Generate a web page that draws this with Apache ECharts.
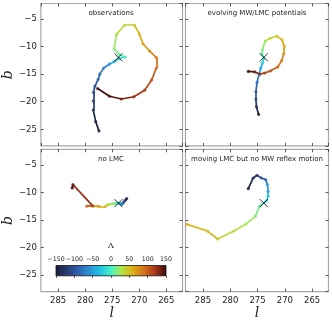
<!DOCTYPE html>
<html>
<head>
<meta charset="utf-8">
<script src="https://cdn.jsdelivr.net/npm/echarts@6/dist/echarts.min.js"></script>
<style>
  html, body { margin: 0; padding: 0; background: #fff; }
  #main { width: 332px; height: 332px; }
</style>
</head>
<body>
<div id="main"></div>
<script>
// axis ranges (l runs right-to-left)
let L_MIN = 262, L_MAX = 288.2
let B_MIN = -28, B_MAX = -2.2

// colormap stops for Lambda, -150 ... 150 every 30 deg
let LAM_MIN = -150, LAM_MAX = 150
let lamColors = ['#1a1a33', '#283a72', '#2f5ea8', '#2b8ed6', '#1fc2e2', '#46f2c8',
                 '#b4e442', '#deaa12', '#d4701a', '#a8361a', '#360a0a']
let cbarTicks = [-150, -100, -50, 0, 50, 100, 150]

// progenitor (the black cross)
let progL = [273.85]
let progB = [-11.95]

// observations
let obsLam = [-150, -140, -130, -120, -110, -100, -90, -80, -70, -55, -40, -20, -5, 10, 20,
              28, 36, 44, 55, 65, 75, 85, 95, 105, 115, 125, 135, 145, 150]
let obsL = [277.45, 278.05, 278.5, 278.5, 278.45, 278.2, 277.6, 277.3, 276.6, 275.55, 274.65, 273.75, 272.6, 273.75, 274.65,
            274.2, 272.7, 270.9, 270.0, 269.3, 268.1, 266.85, 266.85, 267.7, 269.0, 271.0, 273.3, 275.5, 277.7]
let obsB = [-25.3, -23.6, -21.5, -19.85, -18.3, -17.2, -15.95, -15.0, -13.9, -13.2, -12.75, -12.15, -11.9, -11.4, -10.4,
            -7.8, -6.1, -6.1, -7.7, -9.5, -10.8, -12.0, -13.9, -16.05, -17.9, -19.1, -19.5, -19.0, -17.6]

// evolving MW/LMC potentials
let evoLam = [-150, -130, -110, -95, -80, -65, -45, -30, -15, 5, 15, 25, 35, 45, 55, 65, 75, 85, 95, 105, 115, 125, 135, 150]
let evoL = [274.8, 275.2, 275.3, 275.3, 275.1, 274.7, 274.4, 274.1, 273.85, 274.2, 274.1, 273.6,
            272.7, 271.5, 270.5, 270.1, 270.2, 270.6, 271.3, 272.6, 273.7, 274.6, 275.5, 276.7]
let evoB = [-22.3, -20.9, -19.5, -18.2, -16.5, -15.0, -13.9, -13.0, -12.1, -11.4, -10.6, -9.0,
            -8.5, -8.1, -8.8, -10.0, -11.3, -12.6, -13.7, -14.4, -14.8, -15.0, -14.6, -14.5]

// no LMC
let nolLam = [-150, -130, -110, -90, -70, -50, -30, -10, 10, 20, 30, 40, 50, 65, 80, 95, 110, 140, 150]
let nolL = [272.33, 272.6, 272.9, 273.1, 273.3, 273.45, 273.7, 274.0, 274.5, 274.95, 275.5, 275.85,
            276.3, 277.45, 278.6, 279.7, 278.6, 282.26, 282.4]
let nolB = [-11.14, -11.45, -11.8, -12.05, -12.2, -12.0, -12.0, -11.95, -12.05, -12.1, -12.2, -12.25,
            -12.6, -12.55, -12.5, -12.5, -12.45, -8.6, -9.2]

// moving LMC but no MW reflex motion
let movLam = [-150, -135, -120, -100, -80, -60, -45, -30, -15, 10, 20, 28, 36, 44, 52, 60]
let movL = [276.7, 275.8, 275.1, 274.3, 273.5, 273.2, 273.05, 273.05, 273.4, 274.6, 275.4, 277.2, 279.3, 282.3, 284.2, 287.9]
let movB = [-9.33, -7.4, -6.9, -7.4, -7.7, -8.6, -9.8, -10.7, -11.6, -12.5, -14.35, -15.8, -17.0, -18.45, -17.0, -15.8]

let panels = [
    {title: 'observations', L: obsL, B: obsB, lam: obsLam},
    {title: 'evolving MW/LMC potentials', L: evoL, B: evoB, lam: evoLam},
    {title: 'no LMC', L: nolL, B: nolB, lam: nolLam},
    {title: 'moving LMC but no MW reflex motion', L: movL, B: movB, lam: movLam}
]

function lamColor (v) {
    return echarts.color.lerp((v - LAM_MIN) / (LAM_MAX - LAM_MIN), lamColors)
}

function fmtMinus (v) {
    return String(v).replace('-', '\u2212')
}

let chart = echarts.init(document.getElementById('main'))

let grids = [], xAxes = [], yAxes = [], series = [], graphics = []
let tickStyle = {inside: true, length: 3, lineStyle: {color: '#333', width: 0.8}}
let labelStyle = {fontFamily: 'DejaVu Sans', fontSize: 8.5, color: '#222'}

panels.forEach(function (p, i) {
    let row = i >> 1, col = i & 1
    let left = col ? 185.5 : 39.5
    let top = row ? 149.3 : 3.5
    grids.push({left: left, top: top, width: 143, height: 142.4,
        show: true, borderColor: '#a8a8a8', borderWidth: 1.2, backgroundColor: '#fff'})

    ;['bottom', 'top'].forEach(function (pos) {
        let lab = pos === 'bottom' && row === 1
        xAxes.push({
            gridIndex: i, type: 'value', position: pos, inverse: true,
            min: L_MIN, max: L_MAX, minInterval: 5, maxInterval: 5,
            axisLine: {show: false}, splitLine: {show: false}, axisTick: tickStyle,
            axisLabel: Object.assign({show: lab, margin: 5, showMinLabel: false, showMaxLabel: false,
                formatter: function (v) { return v % 5 === 0 ? fmtMinus(v) : '' }}, labelStyle),
            name: lab ? 'l' : '', nameLocation: 'middle', nameGap: 14,
            nameTextStyle: {fontFamily: 'DejaVu Serif', fontStyle: 'italic', fontSize: 14, color: '#222'}
        })
    })
    ;['left', 'right'].forEach(function (pos) {
        let lab = pos === 'left' && col === 0
        yAxes.push({
            gridIndex: i, type: 'value', position: pos,
            min: B_MIN, max: B_MAX, minInterval: 5, maxInterval: 5,
            axisLine: {show: false}, splitLine: {show: false}, axisTick: tickStyle,
            axisLabel: Object.assign({show: lab, margin: 4, showMinLabel: false, showMaxLabel: false,
                formatter: function (v) { return v % 5 === 0 ? fmtMinus(v) : '' }}, labelStyle),
            name: lab ? 'b' : '', nameLocation: 'middle', nameGap: 23, nameRotate: 90,
            nameTextStyle: {fontFamily: 'DejaVu Serif', fontStyle: 'italic', fontSize: 14, color: '#222'}
        })
    })

    // coloured segments between neighbouring points
    let segs = []
    for (let k = 0; k < p.L.length - 1; k++) {
        segs.push({
            coords: [[p.L[k], p.B[k]], [p.L[k + 1], p.B[k + 1]]],
            lineStyle: {color: lamColor((p.lam[k] + p.lam[k + 1]) / 2)}
        })
    }
    series.push({
        type: 'lines', coordinateSystem: 'cartesian2d', xAxisIndex: i * 2, yAxisIndex: i * 2,
        polyline: false, silent: true, z: 2,
        lineStyle: {width: 1.7, opacity: 1, curveness: 0},
        data: segs
    })
    series.push({
        type: 'scatter', xAxisIndex: i * 2, yAxisIndex: i * 2, symbolSize: 3.2, silent: true, z: 3,
        data: p.L.map(function (l, k) {
            return {value: [l, p.B[k], p.lam[k]], itemStyle: {color: lamColor(p.lam[k])}}
        })
    })
    series.push({
        type: 'scatter', xAxisIndex: i * 2, yAxisIndex: i * 2, silent: true, z: 4,
        symbol: 'path://M0,0L10,10M10,0L0,10', symbolSize: 8,
        itemStyle: {color: 'none', borderColor: '#000', borderWidth: 1},
        data: progL.map(function (l, k) { return [l, progB[k]] })
    })

    graphics.push({
        type: 'text', x: left + 71.5, y: top + 10, z: 10,
        style: {text: p.title, align: 'center', verticalAlign: 'middle',
            fontFamily: 'DejaVu Sans', fontSize: 7, fill: '#222'}
    })
})

// colour bar inside the "no LMC" panel
let stops = lamColors.map(function (c, k) { return {offset: k / (lamColors.length - 1), color: c} })
grids.push({left: 56, top: 265.5, width: 110, height: 10.3, show: true,
    borderColor: '#111', borderWidth: 0.8,
    backgroundColor: new echarts.graphic.LinearGradient(0, 0, 1, 0, stops), z: 5})
xAxes.push({
    gridIndex: 4, type: 'value', position: 'top', min: LAM_MIN, max: LAM_MAX, interval: 50,
    axisLine: {show: false}, splitLine: {show: false},
    axisTick: {inside: true, length: 2, lineStyle: {color: '#222', width: 0.8}},
    axisLabel: {margin: 3.5, fontFamily: 'DejaVu Sans', fontSize: 6.3, color: '#222',
        showMinLabel: true, showMaxLabel: true, hideOverlap: false, interval: 0,
        formatter: function (v) { return cbarTicks.indexOf(v) >= 0 ? fmtMinus(v) : '' }},
    name: '\u039b', nameLocation: 'middle', nameGap: 16,
    nameTextStyle: {fontFamily: 'DejaVu Serif', fontSize: 8, color: '#222'}, z: 6
})
yAxes.push({gridIndex: 4, type: 'value', min: 0, max: 1, show: false})

chart.setOption({
    animation: false,
    grid: grids,
    xAxis: xAxes,
    yAxis: yAxes,
    series: series,
    graphic: graphics
})
</script>
</body>
</html>
